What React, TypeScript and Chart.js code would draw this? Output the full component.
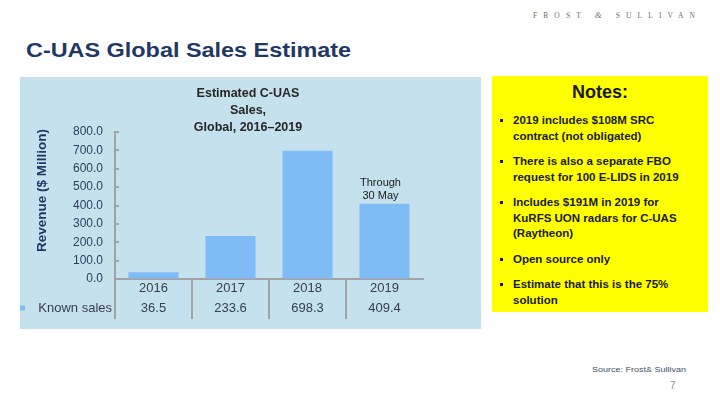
import React, { useEffect, useRef } from 'react';
import { Chart, registerables } from 'chart.js';

Chart.register(...registerables);

// ---------- data ----------
const categories = ['2016', '2017', '2018', '2019'];
const knownSales = [36.5, 233.6, 698.3, 409.4];
const seriesName = 'Known sales';
const yMin = 0;
const yMax = 800;
const yStep = 100;
const chartTitleLines = ['Estimated C-UAS', 'Sales,', 'Global, 2016–2019'];
const yAxisTitle = 'Revenue ($ Million)';
const lastBarNote = ['Through', '30 May'];
const pageTitle = 'C-UAS Global Sales Estimate';
const notesHeading = 'Notes:';
const notes: string[][] = [
  ['2019 includes $108M SRC', 'contract (not obligated)'],
  ['There is also a separate FBO', 'request for 100 E-LIDS in 2019'],
  ['Includes $191M in 2019 for', 'KuRFS UON radars for C-UAS', '(Raytheon)'],
  ['Open source only'],
  ['Estimate that this is the 75%', 'solution'],
];
const sourceText = 'Source: Frost& Sullivan';
const pageNumber = '7';

// ---------- styles ----------
const FONT = 'Arial, "Liberation Sans", sans-serif';
const BAR = '#7fbcf6';
const PANEL = '#c5e1ed';
const AXIS = '#a3a3a3';
const NAVY = '#1f3864';
const TICK_Y = '#2c3e5c';
const TICK_X = '#353f4e';

const decorPlugin = {
  id: 'decor',
  afterDraw(chart: any) {
    const ctx = chart.ctx as CanvasRenderingContext2D;
    const xs = chart.scales.x;
    const ys = chart.scales.y;
    const area = chart.chartArea;
    ctx.save();

    // chart title
    ctx.font = `bold 12.5px ${FONT}`;
    ctx.fillStyle = '#262626';
    ctx.textAlign = 'center';
    ctx.textBaseline = 'middle';
    chartTitleLines.forEach((line, i) => {
      ctx.fillText(line, chart.width / 2 - 2, area.top - 38 + i * 17);
    });

    // y axis title (rotated)
    ctx.save();
    ctx.translate(22, (area.top + area.bottom) / 2 - 15);
    ctx.rotate(-Math.PI / 2);
    ctx.font = `bold 13.5px ${FONT}`;
    ctx.fillStyle = NAVY;
    ctx.textAlign = 'center';
    ctx.textBaseline = 'middle';
    ctx.fillText(yAxisTitle, 0, 0);
    ctx.restore();

    // inward y tick marks
    ctx.strokeStyle = AXIS;
    ctx.lineWidth = 2;
    ys.ticks.forEach((t: any) => {
      const py = Math.round(ys.getPixelForValue(t.value));
      ctx.beginPath();
      ctx.moveTo(ys.right, py);
      ctx.lineTo(ys.right + 4, py);
      ctx.stroke();
    });

    // legend key in data table
    const rowY = xs.top + 29;
    ctx.fillStyle = BAR;
    ctx.fillRect(0, rowY - 2.5, 5, 5);
    ctx.font = `13px ${FONT}`;
    ctx.fillStyle = TICK_X;
    ctx.textAlign = 'right';
    ctx.textBaseline = 'middle';
    ctx.fillText(seriesName, ys.right - 3, rowY);

    // note above last bar
    const el = chart.getDatasetMeta(0).data[categories.length - 1];
    ctx.font = `11px ${FONT}`;
    ctx.fillStyle = '#1a1a1a';
    ctx.textAlign = 'center';
    lastBarNote.forEach((line, i) => {
      ctx.fillText(line, el.x - 4, el.y - 21 + i * 13);
    });

    ctx.restore();
  },
};

function SalesChart() {
  const ref = useRef<HTMLCanvasElement | null>(null);
  useEffect(() => {
    if (!ref.current) return;
    const gridColor = (c: any) => (c.type === 'tick' ? AXIS : 'rgba(0,0,0,0)');
    const chart = new Chart(ref.current, {
      type: 'bar',
      data: {
        labels: categories,
        datasets: [
          {
            label: seriesName,
            data: knownSales,
            backgroundColor: BAR,
            borderWidth: 0,
            categoryPercentage: 0.65,
            barPercentage: 1,
          },
        ],
      },
      plugins: [decorPlugin],
      options: {
        responsive: false,
        animation: false,
        devicePixelRatio: 1,
        layout: { padding: { top: 55, right: 57, left: 0, bottom: 0 } },
        plugins: {
          legend: { display: false },
          title: { display: false },
          tooltip: { enabled: false },
        },
        scales: {
          x: {
            offset: true,
            afterFit: (s: any) => {
              s.height = 50;
            },
            grid: {
              offset: true,
              drawOnChartArea: false,
              drawTicks: true,
              tickLength: 40,
              lineWidth: 2,
              color: gridColor,
              tickColor: gridColor,
            },
            border: { display: true, color: AXIS, width: 2 },
            ticks: {
              autoSkip: false,
              maxRotation: 0,
              padding: -41,
              color: TICK_X,
              font: { family: FONT, size: 13, lineHeight: 20 / 13 },
              callback: (_v: any, i: number) => [categories[i], knownSales[i].toFixed(1)],
            },
          },
          y: {
            min: yMin,
            max: yMax,
            afterFit: (s: any) => {
              s.width = 95;
            },
            grid: { drawOnChartArea: false, drawTicks: false },
            border: { display: true, color: AXIS, width: 2 },
            ticks: {
              stepSize: yStep,
              padding: 12,
              color: TICK_Y,
              font: { family: FONT, size: 12 },
              callback: (v: any) => Number(v).toFixed(1),
            },
          },
        },
      },
    } as any);
    return () => chart.destroy();
  }, []);
  return <canvas ref={ref} width={460} height={252} style={{ display: 'block' }} />;
}

export default function App() {
  const abs = (s: React.CSSProperties): React.CSSProperties => ({ position: 'absolute', whiteSpace: 'nowrap', ...s });
  return (
    <div
      style={{
        position: 'fixed',
        left: 0,
        top: 0,
        width: 720,
        height: 405,
        background: '#ffffff',
        overflow: 'hidden',
        fontFamily: FONT,
      }}
    >
      {/* logo */}
      <div
        style={abs({
          left: 533,
          top: 10,
          fontFamily: '"Liberation Serif", "DejaVu Serif", serif',
          fontSize: 7.5,
          lineHeight: '10px',
          letterSpacing: 6.1,
          color: '#6e6e6e',
        })}
      >
        FROST <span style={{ fontStyle: 'italic', fontSize: 9 }}>&amp;</span> SULLIVAN
      </div>

      {/* title */}
      <div
        style={abs({
          left: 26,
          top: 40.5,
          fontSize: 19.5,
          lineHeight: '19.5px',
          fontWeight: 'bold',
          color: NAVY,
          transform: 'scaleX(1.2)',
          transformOrigin: 'left top',
        })}
      >
        {pageTitle}
      </div>

      {/* chart panel */}
      <div style={abs({ left: 20, top: 77, width: 461, height: 252, background: PANEL })}>
        <SalesChart />
      </div>

      {/* notes box */}
      <div
        style={abs({
          left: 492,
          top: 76,
          width: 216,
          height: 236,
          background: '#ffff00',
          boxSizing: 'border-box',
          paddingTop: 7,
          whiteSpace: 'normal',
        })}
      >
        <div
          style={{
            textAlign: 'center',
            fontWeight: 'bold',
            fontSize: 18,
            lineHeight: '18px',
            color: '#1a1a1a',
          }}
        >
          {notesHeading}
        </div>
        {notes.map((lines, i) => (
          <div
            key={i}
            style={{
              display: 'flex',
              marginTop: i === 0 ? 12 : 10,
              fontSize: 11.5,
              lineHeight: '15.5px',
              fontWeight: 'bold',
              color: '#1a1a1a',
            }}
          >
            <div style={{ width: 21, position: 'relative', flex: '0 0 21px' }}>
              <div
                style={{
                  position: 'absolute',
                  left: 8,
                  top: 6,
                  width: 3,
                  height: 3,
                  background: '#1a1a1a',
                }}
              />
            </div>
            <div>
              {lines.map((l, j) => (
                <div key={j} style={{ whiteSpace: 'nowrap' }}>
                  {l}
                </div>
              ))}
            </div>
          </div>
        ))}
      </div>

      {/* source */}
      <div
        style={abs({
          left: 592,
          top: 365.5,
          fontSize: 7.5,
          lineHeight: '7.5px',
          color: '#44546a',
          transform: 'scaleX(1.2)',
          transformOrigin: 'left top',
        })}
      >
        {sourceText}
      </div>
      <div style={abs({ left: 670, top: 381, fontSize: 10, lineHeight: '10px', color: '#8a8a8a' })}>
        {pageNumber}
      </div>
    </div>
  );
}
